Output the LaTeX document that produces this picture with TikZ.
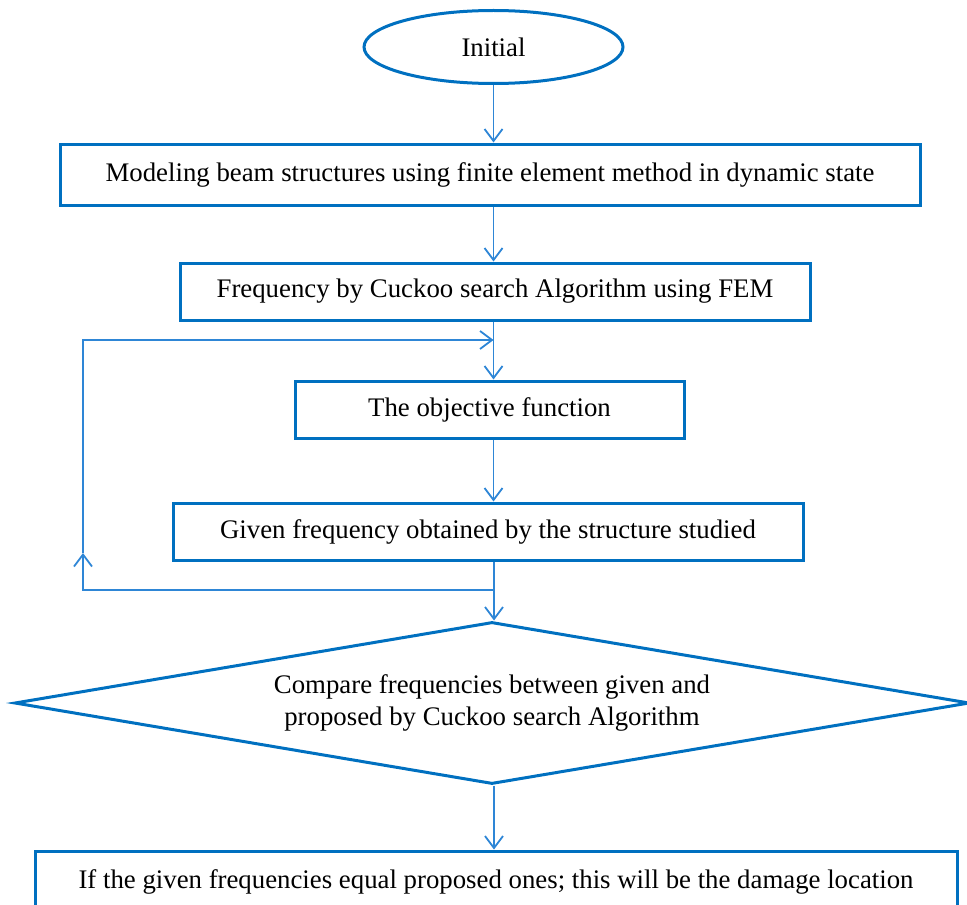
\documentclass[tikz,border=0pt]{standalone}
\usepackage{fontspec}
\setmainfont{Liberation Serif}
\usetikzlibrary{shapes.geometric,arrows.meta}
\definecolor{boxblue}{RGB}{0,112,192}
\definecolor{arrblue}{RGB}{46,134,214}
\begin{document}
\begin{tikzpicture}[x=0.5pt,y=-0.5pt,
    font=\fontsize{13.4}{16}\selectfont,
    block/.style={draw=boxblue,line width=1.5pt,rectangle,inner sep=0pt,minimum height=28.5pt},
    arr/.style={draw=arrblue,line width=0.9pt,-{Straight Barb[length=6pt,width=9pt]}}]
  \useasboundingbox (0,0) rectangle (967,904);
  \clip (0,0) rectangle (967,904);
  \draw
    (493.5,47) node[draw=boxblue,line width=1.5pt,ellipse,inner sep=0pt,minimum width=129.5pt,minimum height=36.5pt] (init){Initial}
    (490,174.5) node[block,minimum width=430pt,minimum height=30.5pt] (model){Modeling beam structures using finite element method in dynamic state}
    (495,291.5) node[block,minimum width=315pt] (freq){Frequency by Cuckoo search Algorithm using FEM}
    (489.5,409.5) node[block,minimum width=194.5pt] (obj){The objective function}
    (488,531.5) node[block,minimum width=315pt] (given){Given frequency obtained by the structure studied}
    (492,703) node[draw=boxblue,line width=1.5pt,diamond,aspect=5.9,inner sep=0pt,minimum width=477.5pt,minimum height=81pt,align=center] (comp){Compare frequencies between given and\\proposed by Cuckoo search Algorithm}
    (496,882) node[block,minimum width=461pt,minimum height=31pt] (loc){If the given frequencies equal proposed ones; this will be the damage location};
  \coordinate (jt) at (493.5,340);
  \coordinate (jb) at (494,590);
  \coordinate (lt) at (83,340);
  \coordinate (lm) at (83,553);
  \coordinate (lb) at (83,590);
  \begin{scope}[arr]
    \draw (init.south) -- (model.north -| init.south);
    \draw (model.south -| init.south) -- (freq.north -| init.south);
    \draw (freq.south -| init.south) -- (obj.north -| init.south);
    \draw (obj.south -| init.south) -- (given.north -| init.south);
    \draw (given.south -| jb) -- (comp.north -| jb);
    \draw (comp.south -| jb) -- (loc.north -| jb);
    \draw (jb) -- (lb) -- (lm);
    \draw (lm) -- (lt) -- (jt);
  \end{scope}
\end{tikzpicture}
\end{document}
